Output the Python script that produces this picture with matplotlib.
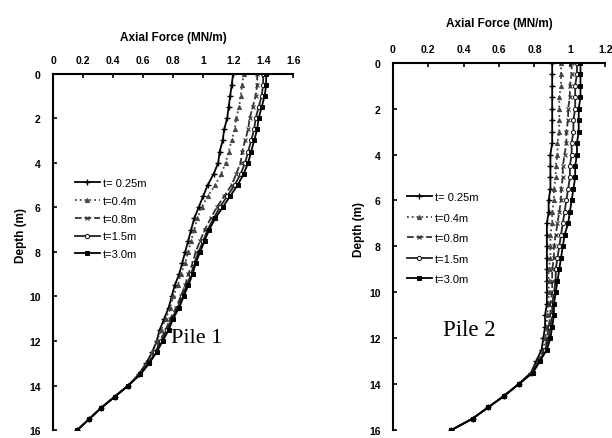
import numpy as np
import matplotlib
matplotlib.use('Agg')
import matplotlib.pyplot as plt
from matplotlib.ticker import FuncFormatter

plt.rcParams['font.family'] = ['Liberation Sans', 'DejaVu Sans']

depth = [0, 0.5, 1, 1.5, 2, 2.5, 3, 3.5, 4, 4.5, 5, 5.5, 6, 6.5, 7, 7.5, 8,
         8.5, 9, 9.5, 10, 10.5, 11, 11.5, 12, 12.5, 13, 13.5, 14, 14.5, 15, 15.5, 16]

labels = ['t= 0.25m', 't=0.4m', 't=0.8m', 't=1.5m', 't=3.0m']

# pile 1 axial force (MN/m)
p1_t025 = [1.20, 1.19, 1.18, 1.17, 1.16, 1.14, 1.13, 1.11, 1.10, 1.07, 1.03, 1.00, 0.97, 0.94, 0.92, 0.90, 0.88,
           0.86, 0.84, 0.81, 0.79, 0.77, 0.74, 0.71, 0.69, 0.66, 0.62, 0.57, 0.50, 0.41, 0.32, 0.24, 0.16]
p1_t04 = [1.27, 1.26, 1.25, 1.24, 1.22, 1.21, 1.19, 1.17, 1.15, 1.12, 1.08, 1.03, 0.99, 0.96, 0.94, 0.92, 0.90,
          0.88, 0.85, 0.83, 0.80, 0.78, 0.75, 0.72, 0.69, 0.66, 0.62, 0.57, 0.50, 0.41, 0.32, 0.24, 0.16]
p1_t08 = [1.36, 1.36, 1.35, 1.33, 1.31, 1.30, 1.28, 1.26, 1.25, 1.22, 1.19, 1.14, 1.09, 1.05, 1.01, 0.98, 0.95,
          0.93, 0.90, 0.88, 0.85, 0.82, 0.78, 0.75, 0.71, 0.68, 0.63, 0.58, 0.50, 0.41, 0.32, 0.24, 0.16]
p1_t15 = [1.40, 1.40, 1.39, 1.37, 1.35, 1.34, 1.32, 1.30, 1.28, 1.25, 1.21, 1.16, 1.11, 1.07, 1.03, 1.00, 0.97,
          0.94, 0.92, 0.89, 0.86, 0.83, 0.79, 0.76, 0.72, 0.68, 0.64, 0.58, 0.50, 0.41, 0.32, 0.24, 0.16]
p1_t30 = [1.42, 1.42, 1.41, 1.39, 1.37, 1.36, 1.34, 1.32, 1.30, 1.27, 1.23, 1.18, 1.13, 1.08, 1.04, 1.01, 0.98,
          0.95, 0.93, 0.90, 0.87, 0.84, 0.80, 0.77, 0.73, 0.69, 0.64, 0.58, 0.50, 0.41, 0.32, 0.24, 0.16]

# pile 2 axial force (MN/m)
p2_t025 = [0.90, 0.90, 0.90, 0.90, 0.90, 0.90, 0.90, 0.90, 0.89, 0.89, 0.89, 0.89, 0.88, 0.88, 0.87, 0.87, 0.87,
           0.87, 0.87, 0.87, 0.87, 0.87, 0.86, 0.86, 0.85, 0.84, 0.81, 0.78, 0.71, 0.63, 0.54, 0.45, 0.33]
p2_t04 = [0.95, 0.95, 0.95, 0.94, 0.94, 0.94, 0.94, 0.93, 0.93, 0.92, 0.92, 0.91, 0.91, 0.90, 0.90, 0.89, 0.89,
          0.89, 0.88, 0.88, 0.88, 0.88, 0.87, 0.87, 0.86, 0.85, 0.82, 0.78, 0.71, 0.63, 0.54, 0.45, 0.33]
p2_t08 = [1.01, 1.01, 1.00, 1.00, 0.99, 0.99, 0.98, 0.98, 0.97, 0.96, 0.96, 0.95, 0.95, 0.94, 0.93, 0.92, 0.91,
          0.91, 0.90, 0.90, 0.90, 0.89, 0.89, 0.88, 0.87, 0.86, 0.82, 0.79, 0.71, 0.63, 0.54, 0.45, 0.33]
p2_t15 = [1.04, 1.04, 1.03, 1.03, 1.03, 1.02, 1.02, 1.01, 1.01, 1.00, 1.00, 0.99, 0.98, 0.97, 0.96, 0.95, 0.94,
          0.93, 0.92, 0.92, 0.91, 0.90, 0.90, 0.89, 0.88, 0.86, 0.83, 0.79, 0.71, 0.63, 0.54, 0.45, 0.33]
p2_t30 = [1.06, 1.06, 1.06, 1.06, 1.05, 1.05, 1.05, 1.04, 1.04, 1.03, 1.03, 1.02, 1.01, 1.00, 0.99, 0.97, 0.96,
          0.95, 0.94, 0.93, 0.92, 0.91, 0.91, 0.90, 0.89, 0.87, 0.83, 0.79, 0.71, 0.63, 0.54, 0.45, 0.33]

p1_xticks = [0, 0.2, 0.4, 0.6, 0.8, 1, 1.2, 1.4, 1.6]
p2_xticks = [0, 0.2, 0.4, 0.6, 0.8, 1, 1.2]
yticks = [0, 2, 4, 6, 8, 10, 12, 14, 16]

styles = [
    dict(color='black', ls='-', marker='+', ms=4, mew=1.0),
    dict(color='#444444', ls=':', marker='^', ms=3, mew=0.7),
    dict(color='#333333', ls='--', marker='x', ms=3, mew=0.8),
    dict(color='#222222', ls='-', marker='o', ms=3, mfc='white', mew=0.8),
    dict(color='black', ls='-', marker='s', ms=3, mew=0.7),
]

fig = plt.figure(figsize=(6.12, 4.39), dpi=100)
ax1 = fig.add_axes([0.087, 0.018, 0.392, 0.812])
ax2 = fig.add_axes([0.642, 0.018, 0.347, 0.837])

fmt = FuncFormatter(lambda v, p: '%g' % round(v, 2))


def setup(ax, xticks, xmax, xlabpad, ylabx):
    ax.set_xlim(0, xmax)
    ax.set_ylim(16, 0)
    ax.xaxis.tick_top()
    ax.xaxis.set_label_position('top')
    ax.set_xticks(xticks)
    ax.set_yticks(yticks)
    ax.xaxis.set_major_formatter(fmt)
    ax.spines['right'].set_visible(False)
    ax.spines['bottom'].set_visible(False)
    ax.spines['top'].set_linewidth(1.5)
    ax.spines['left'].set_linewidth(1.5)
    ax.tick_params(direction='in', length=3, width=1.2, labelsize=7.5)
    ax.tick_params(axis='x', pad=6)
    ax.tick_params(axis='y', pad=9)
    for lab in ax.get_xticklabels() + ax.get_yticklabels():
        lab.set_fontweight('bold')
    ax.set_xlabel('Axial Force (MN/m)', fontsize=8.5, fontweight='bold', labelpad=xlabpad)
    ax.set_ylabel('Depth (m)', fontsize=8.5, fontweight='bold')
    ax.yaxis.set_label_coords(ylabx, 0.55)


setup(ax1, p1_xticks, 1.6, 11, -0.11)
setup(ax2, p2_xticks, 1.2, 13, -0.13)

for vals, lab, st in zip([p1_t025, p1_t04, p1_t08, p1_t15, p1_t30], labels, styles):
    ax1.plot(vals, depth, lw=1.3, label=lab, **st)
for vals, lab, st in zip([p2_t025, p2_t04, p2_t08, p2_t15, p2_t30], labels, styles):
    ax2.plot(vals, depth, lw=1.3, label=lab, **st)

ax1.legend(loc='upper left', bbox_to_anchor=(0.05, 0.735), frameon=False,
           fontsize=8, handlelength=2.2, handletextpad=0.3, labelspacing=0.7)
ax2.legend(loc='upper left', bbox_to_anchor=(0.02, 0.675), frameon=False,
           fontsize=8, handlelength=2.2, handletextpad=0.3, labelspacing=0.95)

ax1.text(0.60, 0.26, 'Pile 1', transform=ax1.transAxes, ha='center', va='center',
         fontsize=16, family='Liberation Serif')
ax2.text(0.36, 0.275, 'Pile 2', transform=ax2.transAxes, ha='center', va='center',
         fontsize=16.5, family='Liberation Serif')

fig.savefig('out.png', dpi=100)
